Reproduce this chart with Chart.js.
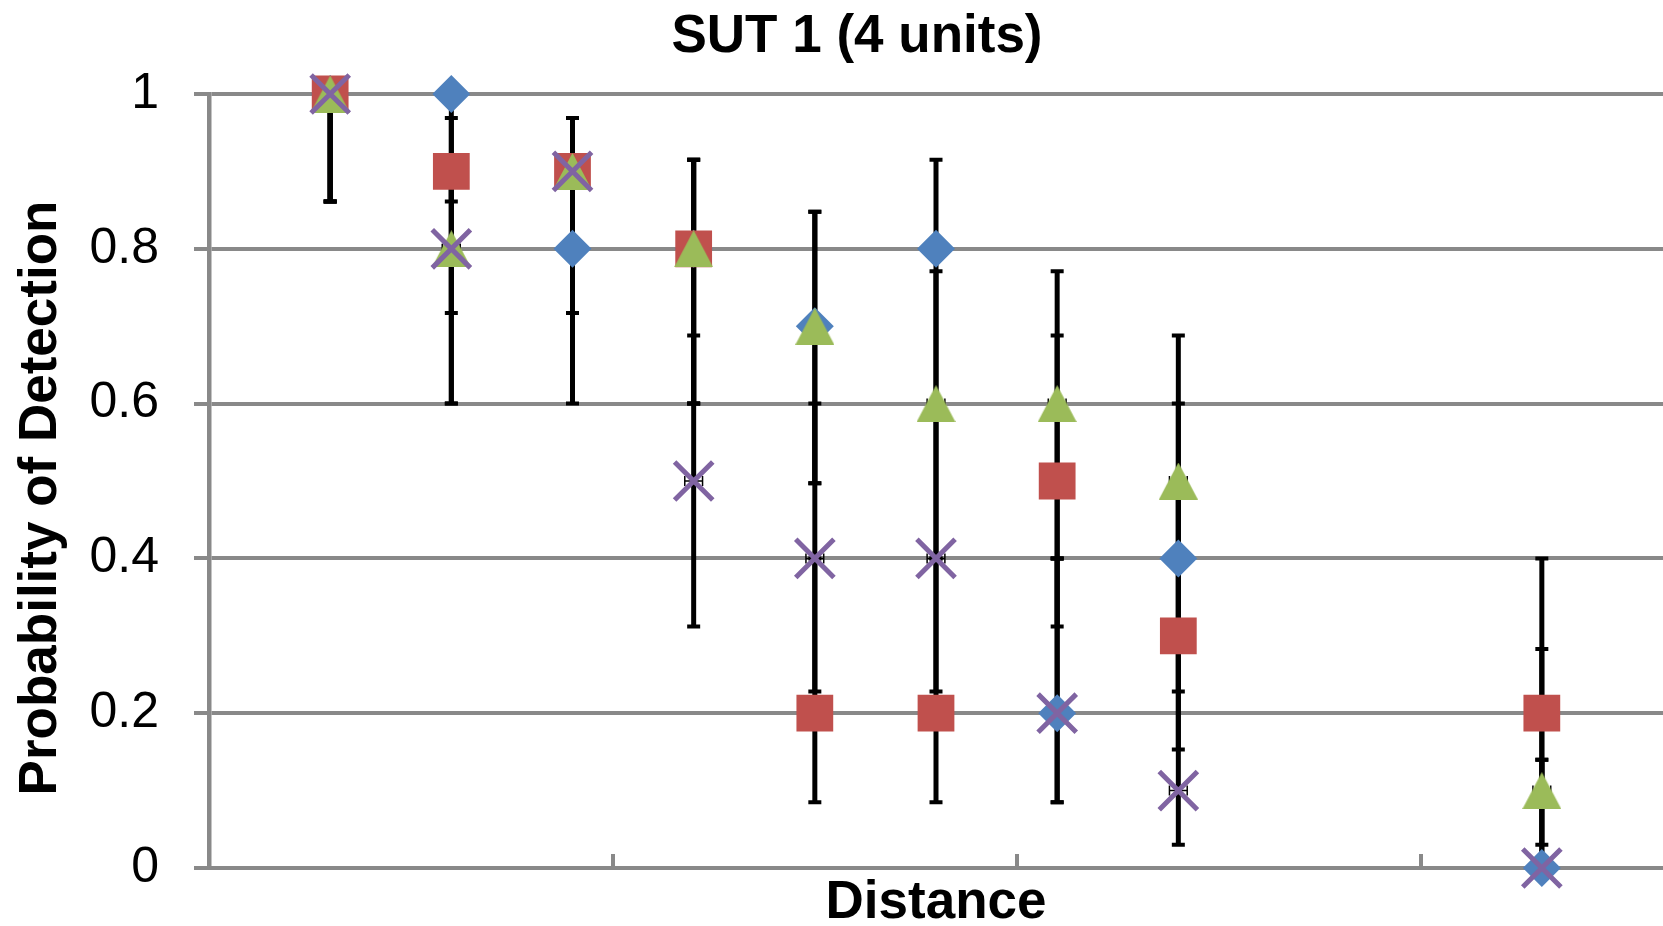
<!DOCTYPE html>
<html>
<head>
<meta charset="utf-8">
<script src="https://cdn.jsdelivr.net/npm/chart.js@4/dist/chart.umd.min.js"></script>
<style>
  html, body { margin: 0; padding: 0; background: #fff; }
  #wrap { width: 1663px; height: 926px; }
</style>
</head>
<body>
<div id="wrap"><canvas id="pod" width="1663" height="926"></canvas></div>
<script>
// distances (x) shared by all four series
const distances = [3, 6, 9, 12, 15, 18, 21, 24, 33];
const xTicks = [10, 20, 30];
const yTicks = [0, 0.2, 0.4, 0.6, 0.8, 1];
const xError = 0.22; // tiny horizontal error bars

// probability of detection, with lower / upper error bar ends
const blueValues = [1.0, 1.0, 0.8, 0.8, 0.7, 0.8, 0.2, 0.4, 0.0];
const blueLow    = [0.861, 0.861, 0.6, 0.6, 0.497, 0.6, 0.085, 0.228, 0];
const blueHigh   = [1, 1, 0.915, 0.915, 0.848, 0.915, 0.4, 0.6, 0.14];

const redValues  = [1.0, 0.9, 0.9, 0.8, 0.2, 0.2, 0.5, 0.3, 0.2];
const redLow     = [0.861, 0.717, 0.717, 0.6, 0.085, 0.085, 0.312, 0.153, 0.085];
const redHigh    = [1, 0.969, 0.969, 0.915, 0.4, 0.4, 0.688, 0.5, 0.4];

const greenValues = [1.0, 0.8, 0.9, 0.8, 0.7, 0.6, 0.6, 0.5, 0.1];
const greenLow    = [0.861, 0.6, 0.717, 0.6, 0.497, 0.4, 0.4, 0.312, 0.03];
const greenHigh   = [1, 0.915, 0.969, 0.915, 0.848, 0.771, 0.771, 0.688, 0.283];

const purpleValues = [1.0, 0.8, 0.9, 0.5, 0.4, 0.4, 0.2, 0.1, 0.0];
const purpleLow    = [0.861, 0.6, 0.717, 0.312, 0.228, 0.228, 0.085, 0.03, 0];
const purpleHigh   = [1, 0.915, 0.969, 0.688, 0.6, 0.6, 0.4, 0.283, 0.14];

const BLUE = '#4F81BD';
const RED = '#C0504D';
const GREEN = '#9BBB59';
const PURPLE = '#8064A2';
const GRID = '#898989';
const FONT = "'Liberation Sans', Arial, sans-serif";

// triangle marker drawn on a small canvas so its box is centred on the value
const triangle = document.createElement('canvas');
triangle.width = 39;
triangle.height = 37;
(function () {
    const c = triangle.getContext('2d');
    c.fillStyle = GREEN;
    c.beginPath();
    c.moveTo(0, 37);
    c.lineTo(19.5, 0);
    c.lineTo(39, 37);
    c.closePath();
    c.fill();
})();

const toPoints = vals => vals.map((v, i) => ({ x: distances[i], y: v }));

// error bars, drawn under all markers
const errorBars = {
    id: 'errorBars',
    beforeDatasetsDraw(chart) {
        const { ctx, scales: { x, y } } = chart;
        ctx.save();
        ctx.strokeStyle = '#000';
        chart.data.datasets.forEach(ds => {
            ds.low.forEach((lo, i) => {
                const px = x.getPixelForValue(distances[i]);
                const py = y.getPixelForValue(ds.data[i].y);
                const y1 = y.getPixelForValue(lo);
                const y2 = y.getPixelForValue(ds.high[i]);
                ctx.lineWidth = 5;
                ctx.beginPath();
                ctx.moveTo(px, y1);
                ctx.lineTo(px, y2);
                ctx.stroke();
                ctx.lineWidth = 4;
                ctx.beginPath();
                ctx.moveTo(px - 6.5, y1);
                ctx.lineTo(px + 6.5, y1);
                ctx.moveTo(px - 6.5, y2);
                ctx.lineTo(px + 6.5, y2);
                ctx.stroke();

                // horizontal bar
                const xl = x.getPixelForValue(distances[i] - xError);
                const xr = x.getPixelForValue(distances[i] + xError);
                ctx.lineWidth = 1.5;
                ctx.beginPath();
                ctx.moveTo(xl, py);
                ctx.lineTo(xr, py);
                ctx.moveTo(xl, py - 5);
                ctx.lineTo(xl, py + 5);
                ctx.moveTo(xr, py - 5);
                ctx.lineTo(xr, py + 5);
                ctx.stroke();
            });
        });
        ctx.restore();
    }
};

// chart title and y title, placed like the original
const titles = {
    id: 'titles',
    afterDraw(chart) {
        const ctx = chart.ctx;
        ctx.save();
        ctx.fillStyle = '#000';
        ctx.font = 'bold 53px ' + FONT;
        ctx.textAlign = 'center';
        ctx.textBaseline = 'alphabetic';
        ctx.fillText('SUT 1 (4 units)', 857, 52);

        ctx.translate(56, 498);
        ctx.rotate(-Math.PI / 2);
        ctx.fillText('Probability of Detection', 0, 0);
        ctx.restore();
    }
};

new Chart(document.getElementById('pod'), {
    type: 'scatter',
    data: {
        datasets: [
            { label: 'Series1', data: toPoints(blueValues), low: blueLow, high: blueHigh, order: 4, clip: false,
              pointStyle: 'rectRot', pointRadius: 19, pointBackgroundColor: BLUE, pointBorderColor: BLUE, pointBorderWidth: 0 },
            { label: 'Series2', data: toPoints(redValues), low: redLow, high: redHigh, order: 3, clip: false,
              pointStyle: 'rect', pointRadius: 26, pointBackgroundColor: RED, pointBorderColor: RED, pointBorderWidth: 0 },
            { label: 'Series3', data: toPoints(greenValues), low: greenLow, high: greenHigh, order: 2, clip: false,
              pointStyle: triangle, pointRadius: 20, pointBackgroundColor: GREEN, pointBorderWidth: 0 },
            { label: 'Series4', data: toPoints(purpleValues), low: purpleLow, high: purpleHigh, order: 1, clip: false,
              pointStyle: 'crossRot', pointRadius: 27, pointBorderColor: PURPLE, pointBackgroundColor: PURPLE, pointBorderWidth: 5 }
        ]
    },
    options: {
        responsive: false,
        animation: false,
        events: [],
        layout: { autoPadding: false, padding: { top: 94, left: 0, right: 0, bottom: 0 } },
        plugins: {
            legend: { display: false },
            tooltip: { enabled: false },
            title: { display: false }
        },
        scales: {
            x: {
                type: 'linear',
                min: 0,
                max: 36,
                afterBuildTicks: s => { s.ticks = xTicks.map(v => ({ value: v })); },
                afterFit: s => { s.height = 58; },
                ticks: { display: false },
                grid: { drawOnChartArea: false, drawTicks: true, tickLength: -14, color: GRID, lineWidth: 4 },
                border: { display: true, color: GRID, width: 4 },
                title: {
                    display: true,
                    text: 'Distance',
                    color: '#000',
                    padding: 0,
                    font: { family: FONT, size: 53, weight: 'bold', lineHeight: 0.85 }
                }
            },
            y: {
                type: 'linear',
                min: 0,
                max: 1,
                afterBuildTicks: s => { s.ticks = yTicks.map(v => ({ value: v })); },
                afterFit: s => { s.width = 209; },
                ticks: {
                    color: '#000',
                    padding: 35,
                    font: { family: FONT, size: 50, lineHeight: 0.9 },
                    callback: v => String(v)
                },
                grid: { color: GRID, lineWidth: 4, tickLength: 15 },
                border: { display: true, color: GRID, width: 4.5 }
            }
        }
    },
    plugins: [errorBars, titles]
});
</script>
</body>
</html>
